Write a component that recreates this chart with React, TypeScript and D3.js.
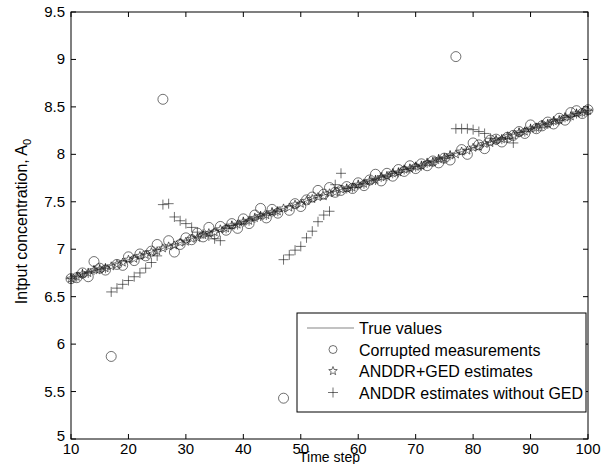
import React from "react";
import * as d3 from "d3";

const timeSteps: number[] = d3.range(10, 101);

const trueValues: number[] = [
  6.70, 6.72, 6.74, 6.76, 6.77, 6.79, 6.81, 6.83, 6.85, 6.87,
  6.89, 6.91, 6.93, 6.95, 6.97, 6.99, 7.01, 7.03, 7.05, 7.07,
  7.09, 7.11, 7.13, 7.15, 7.17, 7.19, 7.21, 7.23, 7.25, 7.27,
  7.29, 7.31, 7.33, 7.35, 7.37, 7.39, 7.41, 7.43, 7.45, 7.47,
  7.49, 7.51, 7.53, 7.55, 7.57, 7.59, 7.61, 7.63, 7.64, 7.66,
  7.68, 7.70, 7.72, 7.74, 7.76, 7.78, 7.80, 7.82, 7.84, 7.86,
  7.87, 7.89, 7.91, 7.93, 7.95, 7.97, 7.99, 8.01, 8.03, 8.05,
  8.07, 8.09, 8.11, 8.13, 8.15, 8.17, 8.19, 8.21, 8.23, 8.25,
  8.27, 8.29, 8.31, 8.33, 8.35, 8.37, 8.39, 8.41, 8.43, 8.45,
  8.46,
];

const measured: number[] = [
  6.69, 6.70, 6.75, 6.71, 6.87, 6.80, 6.78, 5.87, 6.84, 6.83,
  6.92, 6.88, 6.95, 6.93, 6.98, 7.05, 8.58, 7.09, 6.97, 7.05,
  7.12, 7.10, 7.17, 7.13, 7.23, 7.16, 7.24, 7.20, 7.27, 7.22,
  7.32, 7.27, 7.36, 7.43, 7.33, 7.42, 7.38, 5.43, 7.41, 7.48,
  7.45, 7.52, 7.55, 7.62, 7.58, 7.65, 7.60, 7.62, 7.66, 7.64,
  7.70, 7.67, 7.73, 7.79, 7.72, 7.80, 7.77, 7.84, 7.82, 7.88,
  7.85, 7.90, 7.88, 7.93, 7.91, 7.96, 7.94, 9.03, 8.05, 8.00,
  8.12, 8.10, 8.06, 8.15, 8.16, 8.13, 8.18, 8.20, 8.24, 8.22,
  8.31, 8.27, 8.30, 8.34, 8.32, 8.38, 8.36, 8.44, 8.46, 8.43,
  8.47,
];

const estimatesGED: number[] = [
  6.69, 6.71, 6.74, 6.75, 6.78, 6.79, 6.80, 6.82, 6.84, 6.86,
  6.89, 6.90, 6.93, 6.94, 6.97, 6.98, 7.01, 7.03, 7.04, 7.07,
  7.08, 7.11, 7.12, 7.15, 7.17, 7.18, 7.21, 7.22, 7.25, 7.26,
  7.29, 7.30, 7.33, 7.35, 7.36, 7.39, 7.40, 7.43, 7.44, 7.47,
  7.48, 7.51, 7.53, 7.55, 7.56, 7.59, 7.60, 7.63, 7.64, 7.65,
  7.68, 7.69, 7.72, 7.73, 7.76, 7.77, 7.80, 7.81, 7.84, 7.85,
  7.87, 7.88, 7.91, 7.92, 7.95, 7.96, 7.99, 8.00, 8.03, 8.04,
  8.07, 8.08, 8.11, 8.12, 8.15, 8.16, 8.19, 8.20, 8.23, 8.24,
  8.27, 8.28, 8.31, 8.32, 8.35, 8.36, 8.39, 8.40, 8.43, 8.44,
  8.46,
];

const estimatesNoGED: number[] = [
  6.69, 6.71, 6.74, 6.75, 6.78, 6.79, 6.80, 6.55, 6.59, 6.63,
  6.67, 6.71, 6.75, 6.80, 6.86, 6.93, 7.47, 7.48, 7.34, 7.30,
  7.27, 7.23, 7.18, 7.16, 7.14, 7.11, 7.09, 7.22, 7.25, 7.26,
  7.29, 7.30, 7.33, 7.35, 7.36, 7.39, 7.40, 6.89, 6.94, 6.99,
  7.03, 7.12, 7.19, 7.29, 7.36, 7.40, 7.68, 7.80, 7.64, 7.65,
  7.68, 7.69, 7.72, 7.73, 7.76, 7.77, 7.80, 7.81, 7.84, 7.85,
  7.87, 7.88, 7.91, 7.92, 7.95, 7.96, 7.99, 8.27, 8.27, 8.27,
  8.26, 8.24, 8.22, 8.17, 8.15, 8.16, 8.17, 8.12, 8.23, 8.24,
  8.27, 8.28, 8.31, 8.32, 8.35, 8.36, 8.39, 8.40, 8.43, 8.44,
  8.46,
];

const xTicks: number[] = [10, 20, 30, 40, 50, 60, 70, 80, 90, 100];
const yTicks: number[] = [5, 5.5, 6, 6.5, 7, 7.5, 8, 8.5, 9, 9.5];
const legendLabels: string[] = [
  "True values",
  "Corrupted measurements",
  "ANDDR+GED estimates",
  "ANDDR estimates without GED",
];

const W = 612;
const H = 464;
const m = { left: 71, right: 24, top: 12, bottom: 25 };
const FONT = "'Liberation Sans', Arial, Helvetica, sans-serif";
const FS = 15;
const FL = 16;
const INK = "#111";

function starPath(cx: number, cy: number, r: number): string {
  const pts: string[] = [];
  for (let i = 0; i < 10; i++) {
    const a = -Math.PI / 2 + (i * Math.PI) / 5;
    const rr = i % 2 === 0 ? r : r * 0.42;
    pts.push(`${cx + rr * Math.cos(a)},${cy + rr * Math.sin(a)}`);
  }
  return "M" + pts.join("L") + "Z";
}

export default function App() {
  const x = d3.scaleLinear().domain([10, 100]).range([m.left, W - m.right]);
  const y = d3.scaleLinear().domain([5, 9.5]).range([H - m.bottom, m.top]);
  const line = d3
    .line<number>()
    .x((_, i) => x(timeSteps[i]))
    .y((d) => y(d));
  const x0 = m.left;
  const x1 = W - m.right;
  const y0 = H - m.bottom;
  const y1 = m.top;
  const tl = 5;

  const lgX = 297;
  const lgY = 313;
  const lgW = x1 - 2 - lgX;
  const lgH = 99;
  const rowY = (i: number) => lgY + 15 + i * 21.5;

  return (
    <svg width={W} height={H} style={{ position: "absolute", left: 0, top: 0, background: "#fff" }}>
      <rect x={0} y={0} width={W} height={H} fill="#fff" />
      <g fill="none" stroke={INK} strokeWidth={0.6}>
        {timeSteps.map((t, i) => (
          <circle key={"c" + i} cx={x(t)} cy={y(measured[i])} r={5} />
        ))}
        {timeSteps.map((t, i) => (
          <path key={"s" + i} d={starPath(x(t), y(estimatesGED[i]), 4.5)} />
        ))}
        {timeSteps.map((t, i) => {
          const cx = x(t);
          const cy = y(estimatesNoGED[i]);
          return (
            <path key={"p" + i} d={`M${cx - 5},${cy}H${cx + 5}M${cx},${cy - 5}V${cy + 5}`} />
          );
        })}
      </g>
      <path d={line(trueValues) || ""} fill="none" stroke="#333" strokeWidth={0.6} />
      <rect x={x0} y={y1} width={x1 - x0} height={y0 - y1} fill="none" stroke="#000" strokeWidth={1} />
      {xTicks.map((t) => (
        <g key={"xt" + t}>
          <line x1={x(t)} x2={x(t)} y1={y0} y2={y0 - tl} stroke="#000" />
          <line x1={x(t)} x2={x(t)} y1={y1} y2={y1 + tl} stroke="#000" />
          <text x={x(t)} y={y0 + 15} textAnchor="middle" fontFamily={FONT} fontSize={FS}>
            {t}
          </text>
        </g>
      ))}
      {yTicks.map((t) => (
        <g key={"yt" + t}>
          <line x1={x0} x2={x0 + tl} y1={y(t)} y2={y(t)} stroke="#000" />
          <line x1={x1} x2={x1 - tl} y1={y(t)} y2={y(t)} stroke="#000" />
          <text x={x0 - 6} y={y(t) + (t === 5 ? 2 : 5)} textAnchor="end" fontFamily={FONT} fontSize={FS}>
            {t}
          </text>
        </g>
      ))}
      <text x={(x0 + x1) / 2} y={H - 2} textAnchor="middle" fontFamily={FONT} fontSize={14}>
        Time step
      </text>
      <text
        transform={`translate(${27},${(y0 + y1) / 2 - 4}) rotate(-90)`}
        textAnchor="middle"
        fontFamily={FONT}
        fontSize={FL}
      >
        Intput concentration, A<tspan dy={4} fontSize={11}>0</tspan>
      </text>
      <rect x={lgX} y={lgY} width={lgW} height={lgH} fill="#fff" stroke="#000" strokeWidth={1} />
      <line x1={lgX + 10} x2={lgX + 57} y1={rowY(0)} y2={rowY(0)} stroke="#333" strokeWidth={0.6} />
      <circle cx={lgX + 36} cy={rowY(1)} r={4} fill="none" stroke={INK} strokeWidth={0.6} />
      <path d={starPath(lgX + 36, rowY(2), 4.5)} fill="none" stroke={INK} strokeWidth={0.6} />
      <path
        d={`M${lgX + 31},${rowY(3)}H${lgX + 41}M${lgX + 36},${rowY(3) - 5}V${rowY(3) + 5}`}
        fill="none"
        stroke={INK}
        strokeWidth={0.6}
      />
      {legendLabels.map((s, i) => (
        <text key={s} x={lgX + 62} y={rowY(i) + 6} fontFamily={FONT} fontSize={FL}>
          {s}
        </text>
      ))}
    </svg>
  );
}
